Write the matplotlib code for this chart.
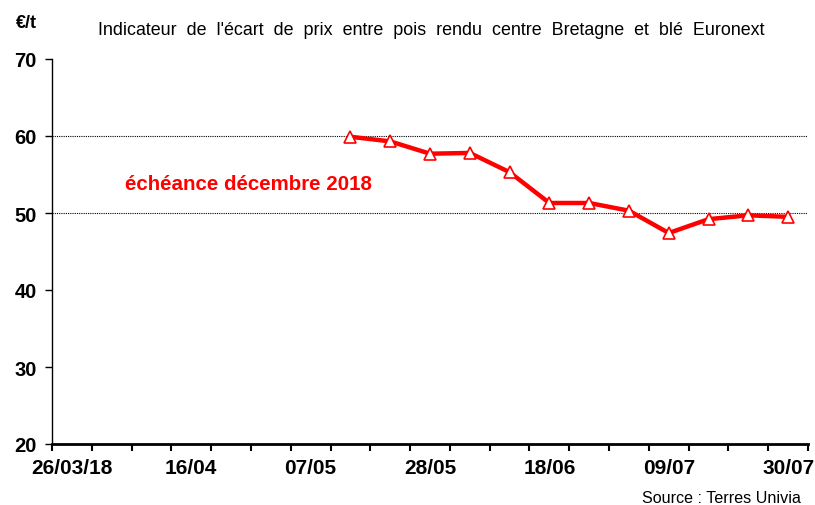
import matplotlib
matplotlib.use("Agg")
import matplotlib.pyplot as plt
from matplotlib.ticker import FixedLocator, NullFormatter
from matplotlib import font_manager

plt.rcParams['font.family'] = ['Liberation Sans', 'DejaVu Sans']

# weekly categories, 26/03/18 -> 30/07
weeks = ['26/03/18', '02/04', '09/04', '16/04', '23/04', '30/04', '07/05', '14/05',
         '21/05', '28/05', '04/06', '11/06', '18/06', '25/06', '02/07', '09/07',
         '16/07', '23/07', '30/07']
# ecart pois / ble, echeance decembre 2018 (from 14/05)
ecart = [None] * 7 + [59.9, 59.3, 57.7, 57.8, 55.3, 51.3, 51.3, 50.3, 47.4, 49.2, 49.7, 49.5]

x = [i for i, v in enumerate(ecart) if v is not None]
y = [v for v in ecart if v is not None]

names = {f.name for f in font_manager.fontManager.ttflist}
narrow = 'Liberation Sans Narrow' if 'Liberation Sans Narrow' in names else 'Liberation Sans'
ann_size = 16 if narrow == 'Liberation Sans Narrow' else 14.8

fig = plt.figure(figsize=(8.15, 5.06), dpi=100)
ax = fig.add_axes([52/815, 61/506, 756/815, 385/506])

ax.plot(x, y, color='#ff0000', lw=3.2, marker='^', ms=9, mfc='white', mec='#ff0000', mew=1.2,
        solid_joinstyle='round', zorder=3)

ax.set_xlim(-0.5, len(weeks) - 0.5)
ax.set_ylim(20, 70)
ax.set_yticks([20, 30, 40, 50, 60, 70])
for g in [50, 60]:
    ax.axhline(g, color='black', lw=0.8, ls=(0, (1, 1)), zorder=1)

# tick marks between categories, labels every 3 weeks
ax.xaxis.set_major_locator(FixedLocator([i - 0.5 for i in range(len(weeks) + 1)]))
ax.xaxis.set_major_formatter(NullFormatter())
ax.set_xticks(range(0, len(weeks), 3), minor=True)
ax.set_xticklabels([weeks[i] for i in range(0, len(weeks), 3)], minor=True,
                   fontsize=15, fontweight='bold')
ax.tick_params(axis='x', which='major', length=5, width=1.5, direction='out')
ax.tick_params(axis='x', which='minor', length=0, pad=10)
ax.tick_params(axis='y', length=5, width=1, direction='out', labelsize=14.5, pad=6)
for lab in ax.get_yticklabels():
    lab.set_fontweight('bold')

ax.spines['top'].set_visible(False)
ax.spines['right'].set_visible(False)
ax.spines['bottom'].set_linewidth(2)
ax.spines['left'].set_linewidth(1)

fig.text(16/815, 1 - 28/506, '€/t', fontsize=13, fontweight='bold', va='baseline')
fig.text(431/815, 1 - 35/506, "Indicateur  de  l'écart  de  prix  entre  pois  rendu  centre  Bretagne  et  blé  Euronext",
         fontsize=12.9, ha='center', va='baseline')
ax.text(1.33, 53.1, 'échéance décembre 2018', color='#ff0000', fontsize=ann_size, fontweight='bold',
        family=narrow, va='baseline')
fig.text(801/815, 1 - 503/506, 'Source : Terres Univia', fontsize=11.6, ha='right', va='baseline')

fig.savefig('out.png', dpi=100)
